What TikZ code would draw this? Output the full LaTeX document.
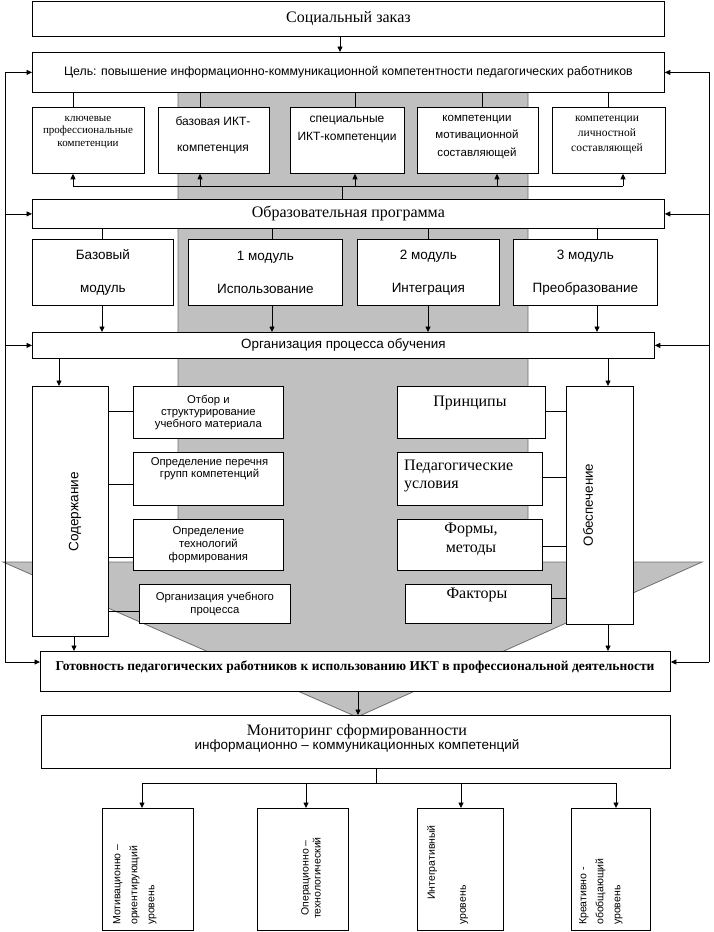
\documentclass[tikz,border=0pt]{standalone}
\usepackage{fontspec}
\setmainfont{Liberation Serif}
\setsansfont{Liberation Sans}
\usetikzlibrary{arrows.meta}
\definecolor{bandfill}{RGB}{192,192,192}
\definecolor{bandedge}{RGB}{110,110,110}
\newcommand\fsz[2]{\fontsize{#1pt}{#2pt}\selectfont}
\begin{document}
\begin{tikzpicture}[x=1pt,y=-1pt,
  box/.style={draw, fill=white, line width=0.8pt, inner sep=0pt, anchor=north west, align=center},
  sz/.style 2 args={minimum width=#1pt, minimum height=#2pt},
  ln/.style={line width=0.8pt},
  arr/.style={line width=0.8pt, -{Triangle[length=5.5pt,width=5pt]}},
  txt/.style={inner sep=0pt, align=center}]
\useasboundingbox[fill=white] (0,0) rectangle (714,932);

% gray band and big arrow
\filldraw[fill=bandfill, draw=bandedge, line width=0.8pt]
  (178,92) -- (528,92) -- (528,562) -- (702,562) -- (357,717) -- (3,562) -- (178,562) -- cycle;

% top
\node[box, sz={632}{35}, font=\fsz{16}{18}] (soc) at (32,1) {Социальный заказ};
\node[box, sz={632}{40}, font=\sffamily\fsz{12.3}{14}] (goal) at (32,52) {Цель: повышение информационно-коммуникационной компетентности педагогических работников};
\draw[arr] (340,0 |- soc.south) -- (340,0 |- goal.north);

% competences
\node[box, sz={112}{66}] (c1) at (32,107) {};
\node[txt, font=\fsz{11}{12.5}] (t1) at (88,132) {ключевые\\профессиональные\\компетенции};
\node[box, sz={111}{66}] (c2) at (158,107) {};
\node[txt, font=\sffamily\fsz{12}{26}] (t2) at (213,135) {базовая ИКТ-\\компетенция};
\node[box, sz={114}{66}] (c3) at (290,107) {};
\node[txt, font=\sffamily\fsz{12}{18}] (t3) at (347,129) {специальные\\ИКТ-компетенции};
\node[box, sz={121}{66}] (c4) at (417,107) {};
\node[txt, font=\sffamily\fsz{11.5}{17.5}] (t4) at (477,137) {компетенции\\мотивационной\\составляющей};
\node[box, sz={113}{66}] (c5) at (552,107) {};
\node[txt, font=\fsz{11.5}{15}] (t5) at (607,135) {компетенции\\личностной\\составляющей};

\draw[ln] (73,0 |- goal.south) -- (73,0 |- c1.north);
\draw[ln] (200,0 |- goal.south) -- (200,0 |- c2.north);
\draw[ln] (355,0 |- goal.south) -- (355,0 |- c3.north);
\draw[ln] (482,0 |- goal.south) -- (482,0 |- c4.north);
\draw[ln] (608,0 |- goal.south) -- (608,0 |- c5.north);

% educational programme
\node[box, sz={632}{29}, font=\fsz{16}{18}] (obr) at (32,199) {Образовательная программа};
\coordinate (busL) at (73,186);
\coordinate (busR) at (623,186);
\coordinate (busM) at (342,186);
\draw[ln] (342,0 |- obr.north) -- (busM);
\draw[ln] (busL) -- (busR);
\draw[arr] (busL) -- (73,0 |- c1.south);
\draw[arr] (200,186) -- (200,0 |- c2.south);
\draw[arr] (355,186) -- (355,0 |- c3.south);
\draw[arr] (497,186) -- (497,0 |- c4.south);
\draw[arr] (busR) -- (623,0 |- c5.south);

% modules
\node[box, sz={141}{66}, font=\sffamily\fsz{13.5}{33}] (m0) at (32,239) {Базовый\\модуль};
\node[box, sz={154}{66}, font=\sffamily\fsz{13.5}{33}] (m1) at (188,239) {1 модуль\\Использование};
\node[box, sz={142}{66}, font=\sffamily\fsz{13.5}{33}] (m2) at (357,239) {2 модуль\\Интеграция};
\node[box, sz={144}{66}, font=\sffamily\fsz{13.5}{33}] (m3) at (513,239) {3 модуль\\Преобразование};
\draw[ln] (102,0 |- obr.south) -- (102,0 |- m0.north);
\draw[ln] (272,0 |- obr.south) -- (272,0 |- m1.north);
\draw[ln] (428,0 |- obr.south) -- (428,0 |- m2.north);
\draw[ln] (597,0 |- obr.south) -- (597,0 |- m3.north);

% organisation
\node[box, sz={622}{26}, font=\sffamily\fsz{13.4}{15}] (org) at (32,332) {Организация процесса обучения};
\draw[arr] (102,0 |- m0.south) -- (102,0 |- org.north);
\draw[arr] (272,0 |- m1.south) -- (272,0 |- org.north);
\draw[arr] (428,0 |- m2.south) -- (428,0 |- org.north);
\draw[arr] (597,0 |- m3.south) -- (597,0 |- org.north);

% content column
\node[box, sz={76}{250}] (sod) at (32,386) {};
\node[txt, rotate=90, font=\sffamily\fsz{13.6}{15}] (tsod) at (75,512) {Содержание};
\node[box, sz={150}{52}, font=\sffamily\fsz{11.3}{11.7}] (L1) at (133,386) {Отбор и\\структурирование\\учебного материала};
\node[box, sz={150}{53}] (L2) at (133,452) {};
\node[txt, font=\sffamily\fsz{11.3}{11.7}] (tL2) at (209.5,468.5) {Определение перечня\\групп компетенций};
\node[box, sz={150}{51}, font=\sffamily\fsz{11.3}{13}] (L3) at (133,519) {Определение\\технологий\\формирования};
\node[box, sz={151}{39}, font=\sffamily\fsz{11.3}{13}] (L4) at (139,584) {Организация учебного\\процесса};
\draw[ln] (sod.east |- 0,411) -- (L1.west |- 0,411);
\draw[ln] (sod.east |- 0,484) -- (L2.west |- 0,484);
\draw[ln] (sod.east |- 0,557) -- (L3.west |- 0,557);
\draw[ln] (sod.east |- 0,611) -- (L4.west |- 0,611);

% provision column
\node[box, sz={67}{238}] (obes) at (566,386) {};
\node[txt, rotate=90, font=\sffamily\fsz{13.3}{15}] (tobes) at (588,505) {Обеспечение};
\node[box, sz={148}{52}] (R1) at (397,386) {};
\node[txt, font=\fsz{16}{18}] (tR1) at (470,403) {Принципы};
\node[box, sz={145}{53}] (R2) at (397,452) {};
\node[inner sep=0pt, align=left, anchor=west, font=\fsz{16}{18}] (tR2) at (404,476) {Педагогические\\условия};
\node[box, sz={145}{51}] (R3) at (397,519) {};
\node[txt, font=\fsz{16}{19}] (tR3) at (471,539.5) {Формы,\\методы};
\node[box, sz={146}{39}] (R4) at (405,584) {};
\node[txt, font=\fsz{16}{18}] (tR4) at (477,595) {Факторы};
\draw[ln] (R1.east |- 0,411) -- (obes.west |- 0,411);
\draw[ln] (R2.east |- 0,477) -- (obes.west |- 0,477);
\draw[ln] (R3.east |- 0,546) -- (obes.west |- 0,546);
\draw[ln] (R4.east |- 0,598) -- (obes.west |- 0,598);

\draw[arr] (59,0 |- org.south) -- (59,0 |- sod.north);
\draw[arr] (608,0 |- org.south) -- (608,0 |- obes.north);

% readiness
\node[box, sz={630}{40}] (got) at (40,651) {};
\node[txt, font=\bfseries\fsz{13.5}{15}] (tgot) at (355,667) {Готовность педагогических работников к использованию ИКТ в профессиональной деятельности};
\draw[arr] (74,0 |- sod.south) -- (74,0 |- got.north);
\draw[arr] (608,0 |- obes.south) -- (608,0 |- got.north);

% monitoring
\node[box, sz={629}{53}] (mon) at (41,715) {};
\node[txt] (tmon) at (357,738.5) {\fsz{16}{21}Мониторинг сформированности\\\sffamily\fsz{13.5}{21}информационно – коммуникационных компетенций};
\draw[arr] (358,0 |- got.south) -- (358,0 |- mon.north);

% levels
\node[box, sz={91}{122}] (v1) at (102,808) {};
\node[box, sz={91}{122}] (v2) at (257,808) {};
\node[box, sz={86}{122}] (v3) at (417,808) {};
\node[box, sz={79}{122}] (v4) at (571,808) {};
\node[inner sep=0pt, rotate=90, anchor=north west, align=left, font=\sffamily\fsz{10.5}{17}] (tv1) at (113,925) {Мотивационно –\\ориентирующий\\уровень};
\node[inner sep=0pt, rotate=90, align=center, font=\sffamily\fsz{10.5}{12}] (tv2) at (311,878) {Операционно –\\технологический};
\node[inner sep=0pt, rotate=90, anchor=north west, align=left, font=\sffamily\fsz{10.5}{31}] (tv3) at (427,925) {\hspace*{25pt}Интегративный\\уровень};
\node[inner sep=0pt, rotate=90, anchor=north west, align=left, font=\sffamily\fsz{10.5}{17}] (tv4) at (579,925) {Креативно -\\обобщающий\\уровень};

\coordinate (mbus) at (376,783);
\draw[ln] (376,0 |- mon.south) -- (mbus);
\draw[ln] (142,783) -- (616,783);
\draw[arr] (142,783) -- (142,0 |- v1.north);
\draw[arr] (306,783) -- (306,0 |- v2.north);
\draw[arr] (461,783) -- (461,0 |- v3.north);
\draw[arr] (616,783) -- (616,0 |- v4.north);

% feedback lines
\coordinate (lt) at (5,0 |- goal.west);
\coordinate (lb) at (5,662);
\coordinate (rt) at (709,0 |- goal.east);
\coordinate (rb) at (709,662);
\draw[ln] (lt) -- (lb);
\draw[ln] (rt) -- (rb);
\draw[arr] (lt) -- (goal.west);
\draw[arr] (5,0 |- obr.west) -- (obr.west);
\draw[arr] (5,0 |- org.west) -- (org.west);
\draw[arr] (lb) -- (lb -| got.west);
\draw[arr] (rt) -- (goal.east);
\draw[arr] (709,0 |- obr.east) -- (obr.east);
\draw[arr] (709,0 |- org.east) -- (org.east);
\draw[arr] (rb) -- (rb -| got.east);
\end{tikzpicture}
\end{document}
